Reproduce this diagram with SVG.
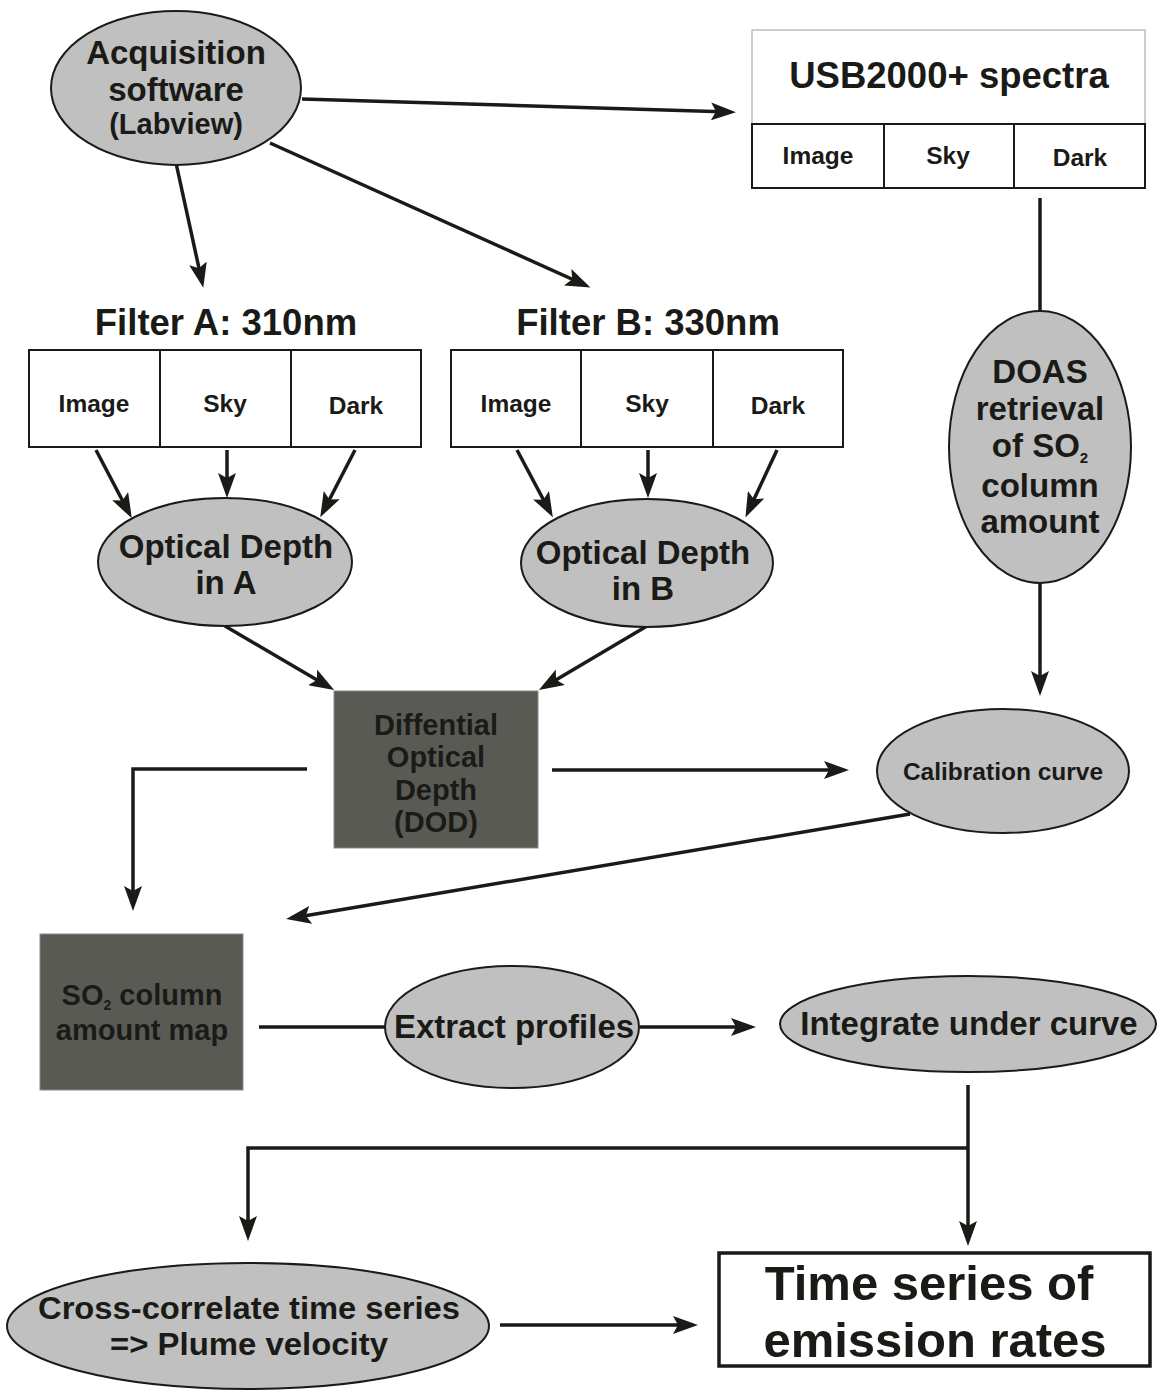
<svg xmlns="http://www.w3.org/2000/svg" width="1159" height="1391" viewBox="0 0 1159 1391">
<defs>
<style>
text{font-family:"Liberation Sans",Arial,sans-serif;font-weight:bold;fill:#1a1a17;text-anchor:middle}
.ell{fill:#c0c0c0;stroke:#1a1a17;stroke-width:2}
.dark{fill:#5a5a55;stroke:#8a8a85;stroke-width:1}
.box{fill:#fff;stroke:#1a1a17;stroke-width:2}
.c{fill:none;stroke:#1a1a17;stroke-width:3.5}
.a{marker-end:url(#ah)}
.t30{font-size:33px}.t22{font-size:24.5px}.t26{font-size:29px}
</style>
<marker id="ah" markerUnits="userSpaceOnUse" markerWidth="26" markerHeight="18" viewBox="0 0 26 18" refX="19" refY="9" orient="auto">
<path d="M0,0 L25,9 L0,18 L5,9 z" fill="#1a1a17"/>
</marker>
</defs>
<rect width="1159" height="1391" fill="#fff"/>

<g id="connectors">
<line class="c a" x1="302" y1="99" x2="730" y2="112"/>
<line class="c a" x1="176" y1="163" x2="202" y2="282"/>
<line class="c a" x1="270" y1="143" x2="585" y2="285"/>
<line class="c a" x1="96" y1="450" x2="129" y2="513"/>
<line class="c a" x1="227" y1="450" x2="227" y2="492"/>
<line class="c a" x1="355" y1="450" x2="323" y2="512"/>
<line class="c a" x1="517" y1="450" x2="550" y2="512"/>
<line class="c a" x1="648" y1="450" x2="648" y2="492"/>
<line class="c a" x1="777" y1="450" x2="748" y2="512"/>
<line class="c a" x1="225" y1="626" x2="329" y2="687"/>
<line class="c a" x1="647" y1="626" x2="544" y2="687"/>
<line class="c" x1="1040" y1="198" x2="1040" y2="311"/>
<line class="c a" x1="1040" y1="583" x2="1040" y2="690"/>
<polyline class="c a" points="307,769 133,769 133,905"/>
<line class="c a" x1="552" y1="770" x2="843" y2="770"/>
<line class="c a" x1="910" y1="814" x2="292" y2="918"/>
<line class="c" x1="259" y1="1027" x2="386" y2="1027"/>
<line class="c a" x1="640" y1="1027" x2="750" y2="1027"/>
<line class="c a" x1="968" y1="1085" x2="968" y2="1240"/>
<polyline class="c a" points="968,1148 248,1148 248,1235"/>
<line class="c a" x1="500" y1="1325" x2="692" y2="1325"/>
</g>

<g id="acquisition">
<ellipse class="ell" cx="176" cy="88" rx="125" ry="77"/>
<text class="t30" x="176" y="64">Acquisition</text>
<text class="t30" x="176" y="101">software</text>
<text class="t26" x="176" y="134">(Labview)</text>
</g>

<g id="usb2000">
<rect x="752" y="30" width="393" height="158" style="fill:#fff;stroke:#bdbdbd;stroke-width:1.5"/>
<rect class="box" x="752" y="124" width="393" height="64"/>
<line x1="884" y1="124" x2="884" y2="188" stroke="#1a1a17" stroke-width="2"/>
<line x1="1014" y1="124" x2="1014" y2="188" stroke="#1a1a17" stroke-width="2"/>
<text x="949" y="88" style="font-size:36.5px">USB2000+ spectra</text>
<text class="t22" x="818" y="164">Image</text>
<text class="t22" x="948" y="164">Sky</text>
<text class="t22" x="1080" y="166">Dark</text>
</g>

<g id="filterA">
<text x="226" y="335" style="font-size:36.5px">Filter A: 310nm</text>
<rect class="box" x="29" y="350" width="392" height="97"/>
<line x1="160" y1="350" x2="160" y2="447" stroke="#1a1a17" stroke-width="2"/>
<line x1="291" y1="350" x2="291" y2="447" stroke="#1a1a17" stroke-width="2"/>
<text class="t22" x="94" y="412">Image</text>
<text class="t22" x="225" y="412">Sky</text>
<text class="t22" x="356" y="414">Dark</text>
</g>

<g id="filterB">
<text x="648" y="335" style="font-size:36.5px">Filter B: 330nm</text>
<rect class="box" x="451" y="350" width="392" height="97"/>
<line x1="581" y1="350" x2="581" y2="447" stroke="#1a1a17" stroke-width="2"/>
<line x1="713" y1="350" x2="713" y2="447" stroke="#1a1a17" stroke-width="2"/>
<text class="t22" x="516" y="412">Image</text>
<text class="t22" x="647" y="412">Sky</text>
<text class="t22" x="778" y="414">Dark</text>
</g>

<g id="odA">
<ellipse class="ell" cx="225" cy="562" rx="127" ry="64"/>
<text class="t30" x="226" y="558">Optical Depth</text>
<text class="t30" x="226" y="594">in A</text>
</g>

<g id="odB">
<ellipse class="ell" cx="647" cy="563" rx="126" ry="64"/>
<text class="t30" x="643" y="564">Optical Depth</text>
<text class="t30" x="643" y="600">in B</text>
</g>

<g id="doas">
<ellipse class="ell" cx="1040" cy="447" rx="91" ry="136"/>
<text class="t30" x="1040" y="383">DOAS</text>
<text class="t30" x="1040" y="420">retrieval</text>
<text class="t30" x="1040" y="457">of SO<tspan style="font-size:15px" dy="6">2</tspan></text>
<text class="t30" x="1040" y="497">column</text>
<text class="t30" x="1040" y="533">amount</text>
</g>

<g id="dod">
<rect class="dark" x="334" y="691" width="204" height="157"/>
<text class="t26" x="436" y="735">Diffential</text>
<text class="t26" x="436" y="767">Optical</text>
<text class="t26" x="436" y="800">Depth</text>
<text class="t26" x="436" y="832">(DOD)</text>
</g>

<g id="calibration">
<ellipse class="ell" cx="1003" cy="771" rx="126" ry="62"/>
<text class="t22" x="1003" y="780">Calibration curve</text>
</g>

<g id="so2map">
<rect class="dark" x="40" y="934" width="203" height="156"/>
<text class="t26" x="142" y="1005">SO<tspan style="font-size:14px" dy="5">2</tspan><tspan dy="-5"> column</tspan></text>
<text class="t26" x="142" y="1040">amount map</text>
</g>

<g id="extract">
<ellipse class="ell" cx="512" cy="1027" rx="127" ry="61"/>
<text class="t30" x="514" y="1038">Extract profiles</text>
</g>

<g id="integrate">
<ellipse class="ell" cx="968" cy="1024" rx="188" ry="48"/>
<text x="969" y="1035" style="font-size:33px">Integrate under curve</text>
</g>

<g id="crosscorr">
<ellipse class="ell" cx="248" cy="1326" rx="241" ry="63"/>
<text x="249" y="1319" style="font-size:31px" textLength="422" lengthAdjust="spacingAndGlyphs">Cross-correlate time series</text>
<text x="249" y="1355" style="font-size:31px" textLength="278" lengthAdjust="spacingAndGlyphs">=&gt; Plume velocity</text>
</g>

<g id="timeseries">
<rect x="719" y="1253" width="431" height="113" fill="#fff" stroke="#1a1a17" stroke-width="3.5"/>
<text x="929" y="1300" style="font-size:49px">Time series of</text>
<text x="935" y="1357" style="font-size:49px">emission rates</text>
</g>
</svg>
